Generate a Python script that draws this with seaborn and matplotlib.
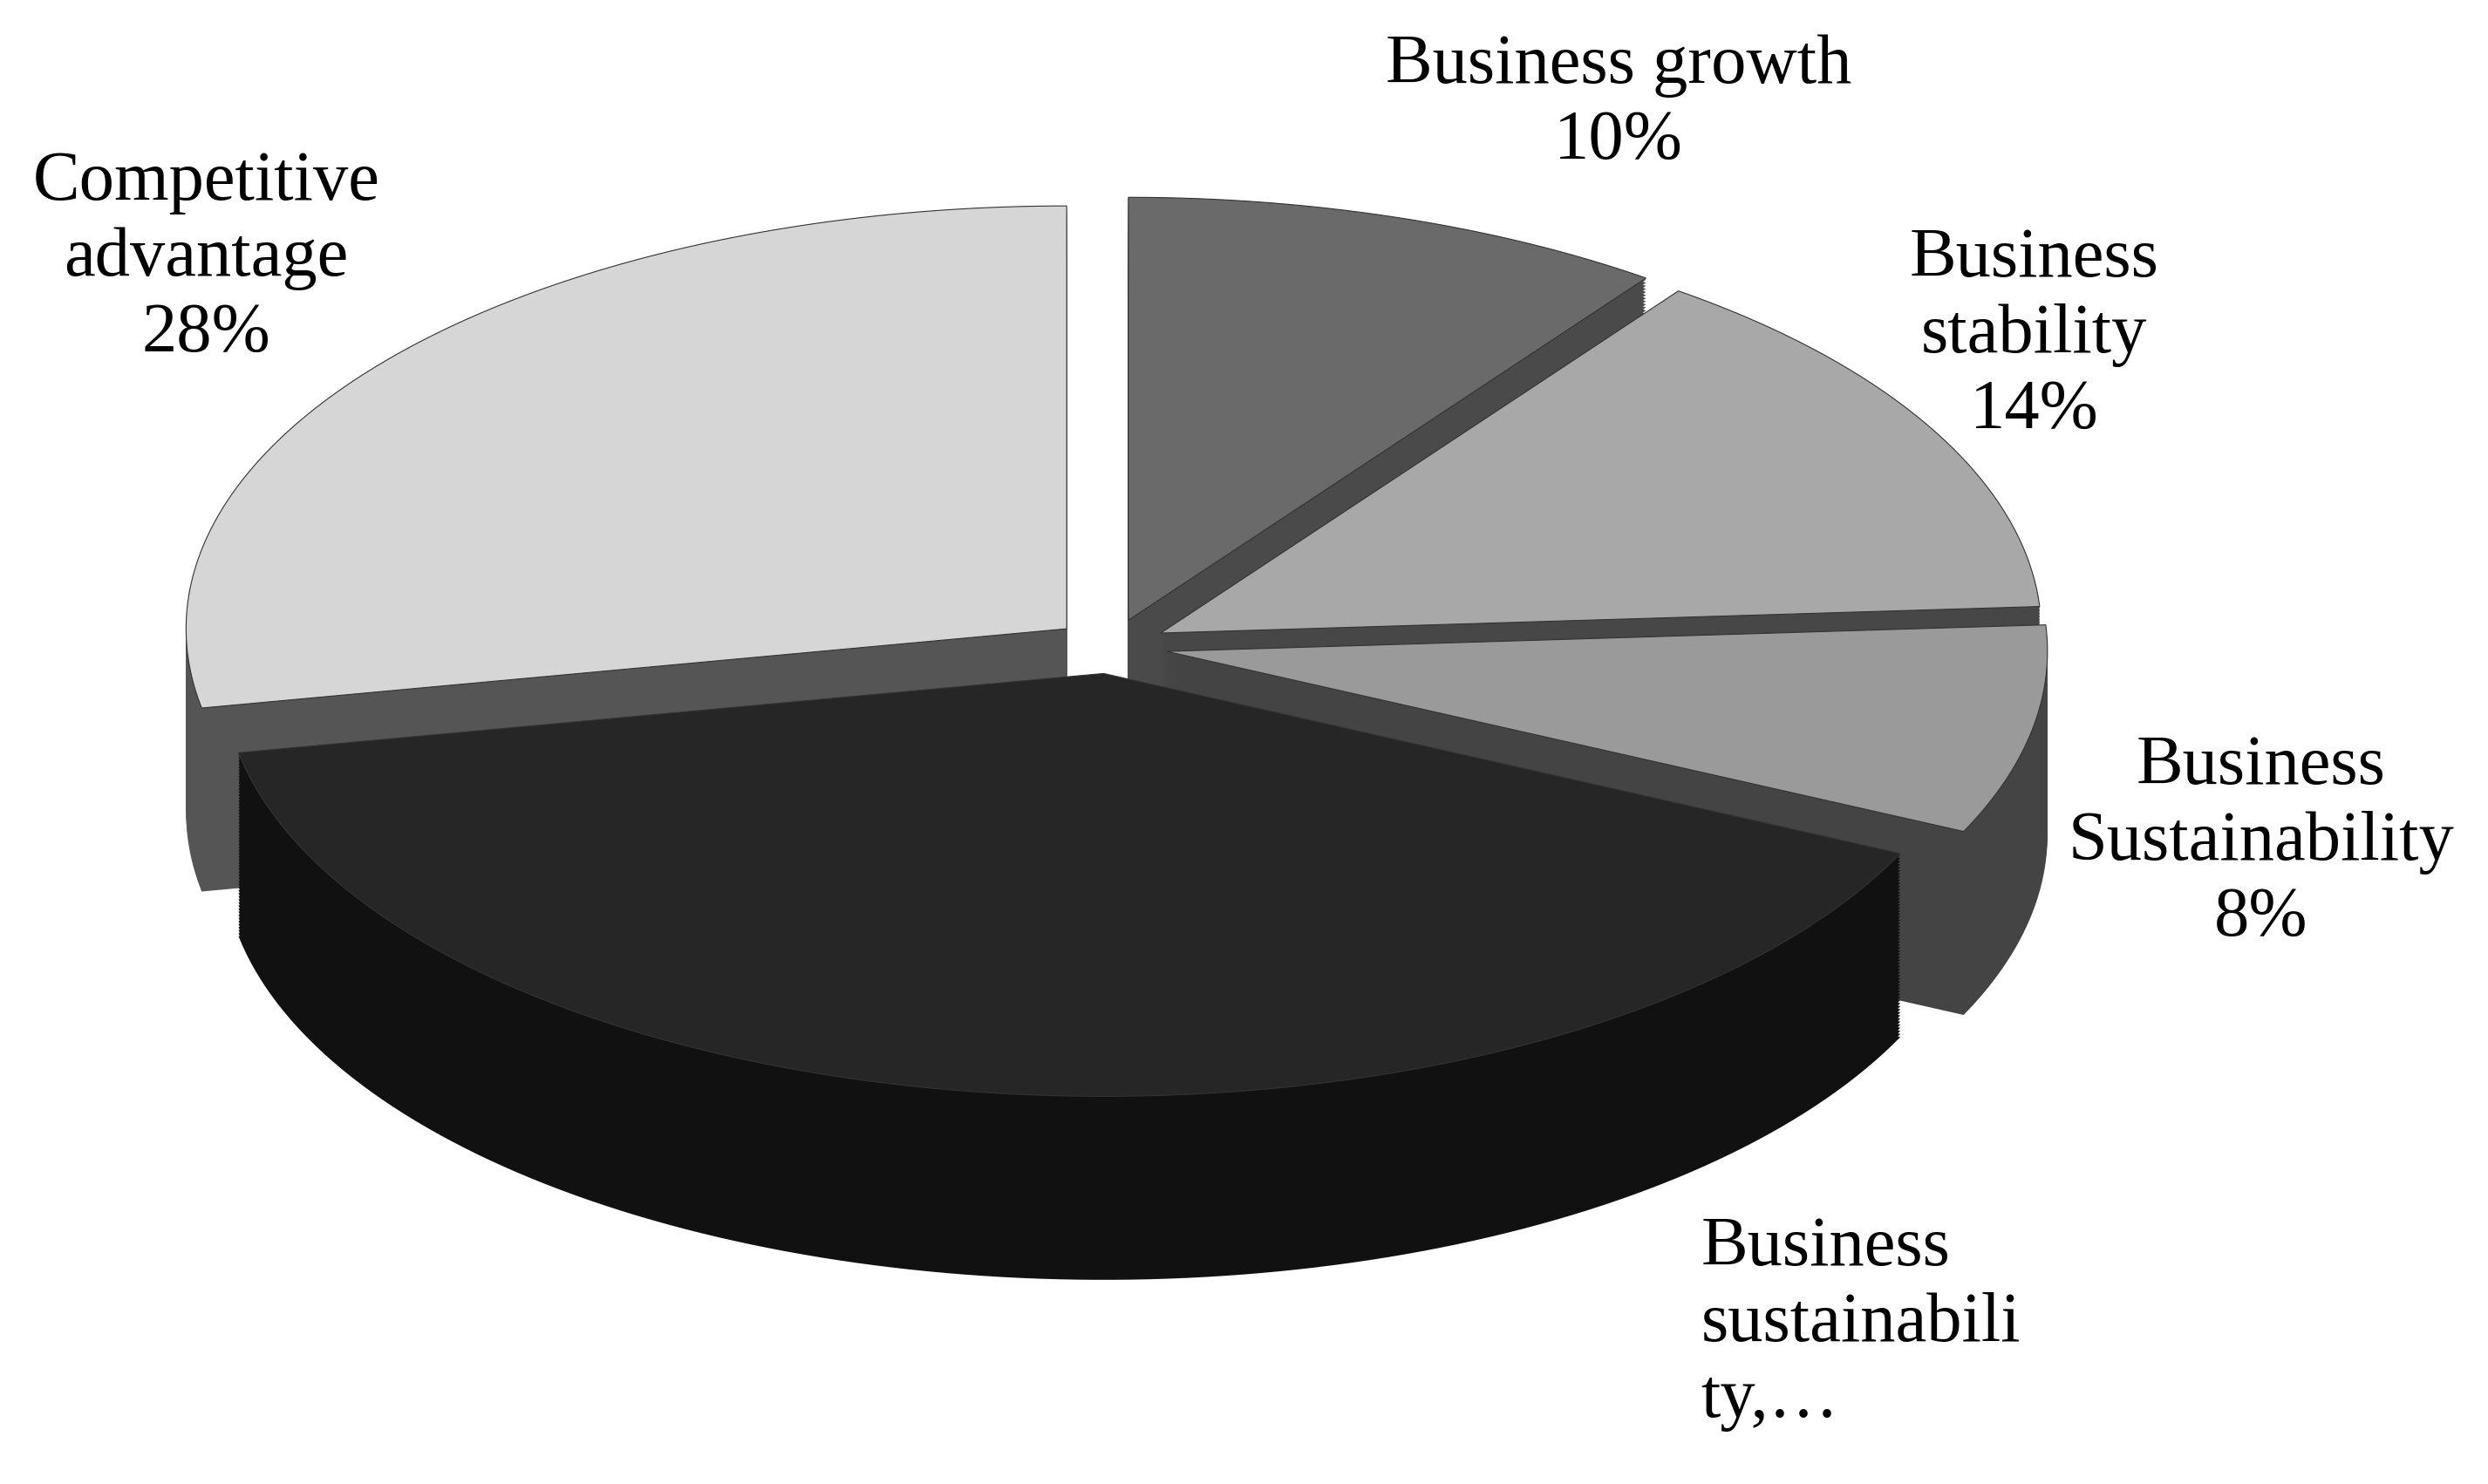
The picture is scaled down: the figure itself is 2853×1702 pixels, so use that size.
"""Pseudo-3D exploded pie of business outcome shares."""

import numpy as np
import matplotlib

matplotlib.use("Agg")

import matplotlib.pyplot as plt
from matplotlib.patches import Polygon
import seaborn as sns

labels = ["Business growth\n10%", "Business\nstability\n14%", "Business\nSustainability\n8%",
          "Business\nsustainabili\nty,…", "Competitive\nadvantage\n28%"]
shares = [10, 14, 8, 40, 28]
top_colors = ["#6a6a6a", "#a8a8a8", "#9a9a9a", "#262626", "#d6d6d6"]
side_colors = ["#4a4a4a", "#474747", "#444444", "#111111", "#555555"]
label_pos = [(1020, 65), (1282, 210), (1425, 528), (1072, 830), (130, 162)]
label_ha = ["center", "center", "center", "left", "center"]

sns.set_theme(style="white")
plt.rcParams["font.family"] = ["Liberation Serif", "DejaVu Serif"]

fig, ax = plt.subplots(figsize=(28.53, 17.02), dpi=100)
fig.subplots_adjust(0, 0, 1, 1)
ax.set_xlim(0, 1568)
ax.set_ylim(930, 0)
ax.set_axis_off()

cx, cy, rx, ry, depth, explode = 700, 405, 555, 265, 115, 36

# angles in degrees, clockwise from top
starts = 90 - np.cumsum([0] + shares[:-1]) * 3.6
wedges = []
for i, share in enumerate(shares):
    a0 = starts[i]
    a1 = a0 - share * 3.6
    mid = np.radians((a0 + a1) / 2)
    ox = cx + explode * np.cos(mid)
    oy = cy - explode * (ry / rx) * np.sin(mid)
    th = np.radians(np.linspace(a0, a1, 120))
    xs = np.concatenate([[ox], ox + rx * np.cos(th)])
    ys = np.concatenate([[oy], oy - ry * np.sin(th)])
    wedges.append((-np.sin(mid), i, np.column_stack([xs, ys])))

# back to front
for _, i, pts in sorted(wedges, key=lambda w: w[0]):
    for d in np.linspace(depth, 1, 60):
        ax.add_patch(Polygon(pts + [0, d], closed=True, facecolor=side_colors[i],
                             edgecolor="none"))
    ax.add_patch(Polygon(pts, closed=True, facecolor=top_colors[i],
                         edgecolor="#333333", linewidth=0.8))

for text, (x, y), ha in zip(labels, label_pos, label_ha):
    ax.text(x, y, text, ha=ha, va="center", fontsize=58, color="black",
            linespacing=1.25, multialignment="center" if ha == "center" else "left")

fig.savefig("out.png", dpi=100)
